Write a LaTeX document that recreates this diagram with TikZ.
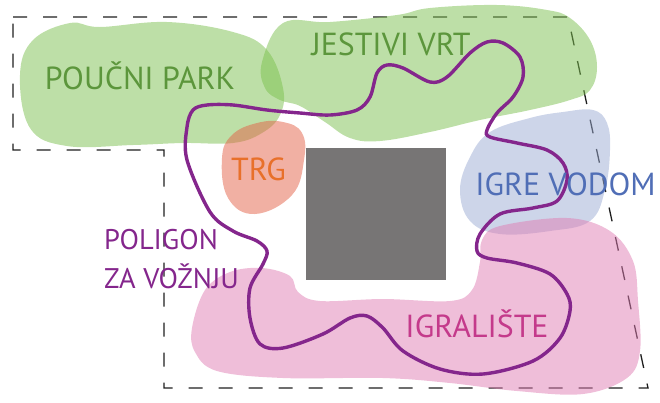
\documentclass[tikz,border=0pt]{standalone}
\usepackage{fontspec}
\setmainfont{PT Sans}
\definecolor{greenC}{RGB}{124,192,79}
\definecolor{greenT}{RGB}{92,150,60}
\definecolor{trgC}{RGB}{227,97,71}
\definecolor{trgT}{RGB}{232,112,42}
\definecolor{blueC}{RGB}{155,171,211}
\definecolor{blueT}{RGB}{80,110,182}
\definecolor{pinkC}{RGB}{223,125,179}
\definecolor{pinkT}{RGB}{196,58,139}
\definecolor{purpleL}{RGB}{132,38,140}
\definecolor{buildingC}{RGB}{119,117,117}
\definecolor{borderC}{RGB}{30,30,30}
\begin{document}
\begin{tikzpicture}[x=1bp,y=-1bp,
  blob/.style={fill=#1,fill opacity=0.5,draw=none},
  lbl/.style={font=\fontsize{32}{32}\selectfont,inner sep=0pt,anchor=base},
  route/.style={draw=purpleL,line width=3.4bp},
  border/.style={draw=borderC,line width=1.3bp,dash pattern=on 14bp off 16bp}]
\useasboundingbox (0,0) rectangle (660,402);
% site border
\draw[border] (13,17) -- (568,17) -- (648,388) -- (164,388) -- (164,150) -- (13,150) -- cycle;
% blobs
\fill[blob=greenC] plot[smooth cycle,tension=0.65] coordinates {(20,75) (33,40) (70,23) (100,27) (167,22) (233,32) (267,50) (283,88) (280,115) (262,133) (233,143) (183,143) (133,145) (67,146) (30,128)};
\fill[blob=greenC] plot[smooth cycle,tension=0.65] coordinates {(262,62) (283,23) (330,22) (397,15) (430,8) (497,5) (547,10) (570,18) (590,40) (597,67) (590,90) (570,100) (530,110) (480,120) (430,132) (380,141) (350,138) (325,122) (300,106) (280,100) (265,88)};
\fill[blob=trgC] plot[smooth cycle,tension=0.7] coordinates {(222,158) (232,135) (257,123) (283,122) (302,133) (304,160) (292,195) (255,214) (228,198)};
\fill[blob=blueC] plot[smooth cycle,tension=0.65] coordinates {(460,190) (470,157) (490,132) (530,118) (563,112) (593,110) (607,123) (610,150) (605,190) (590,221) (550,231) (500,234) (470,221)};
\fill[blob=pinkC] plot[smooth cycle,tension=0.6] coordinates {(192,328) (205,290) (230,272) (262,268) (290,276) (298,292) (320,301) (383,299) (450,301) (472,290) (480,262) (482,240) (500,226) (567,218) (610,231) (633,261) (638,301) (640,351) (627,378) (583,394) (517,391) (450,383) (383,378) (283,378) (217,371) (195,352)};
% building
\fill[buildingC] (306,148) rectangle (446,280);
% route
\draw[route] plot[smooth cycle,tension=0.55] coordinates {(187,160) (187,127) (193,110) (207,105) (233,105) (267,110) (300,113) (330,115) (357,110) (370,97) (377,73) (387,65) (403,68) (430,82) (447,77) (470,53) (487,42) (503,43) (520,57) (523,77) (513,97) (497,113) (487,130) (490,137) (517,143) (547,150) (563,163) (567,180) (557,201) (533,208) (500,214) (480,234) (477,251) (487,258) (517,263) (550,274) (567,294) (570,311) (560,338) (533,361) (483,374) (440,369) (403,351) (383,328) (367,316) (350,318) (323,334) (283,348) (260,344) (250,318) (250,288) (263,264) (267,251) (257,241) (233,231) (210,212)};
% labels
\node[lbl,text=greenT] (poucni) at (140,89) {POUČNI PARK};
\node[lbl,text=greenT] (jestivi) at (391,55) {JESTIVI VRT};
\node[lbl,text=trgT] (trg) at (258.5,180) {TRG};
\node[lbl,text=blueT] (igre) at (565.5,195) {IGRE VODOM};
\node[lbl,text=pinkT] (igraliste) at (477,337) {IGRALIŠTE};
\node[lbl,text=purpleL,anchor=base west,font=\fontsize{28.5}{28.5}\selectfont] (poligon) at (104,249) {POLIGON};
\node[lbl,text=purpleL,anchor=base west,font=\fontsize{28.5}{28.5}\selectfont] (zavoznju) at (104,288) {ZA VOŽNJU};
\end{tikzpicture}
\end{document}
